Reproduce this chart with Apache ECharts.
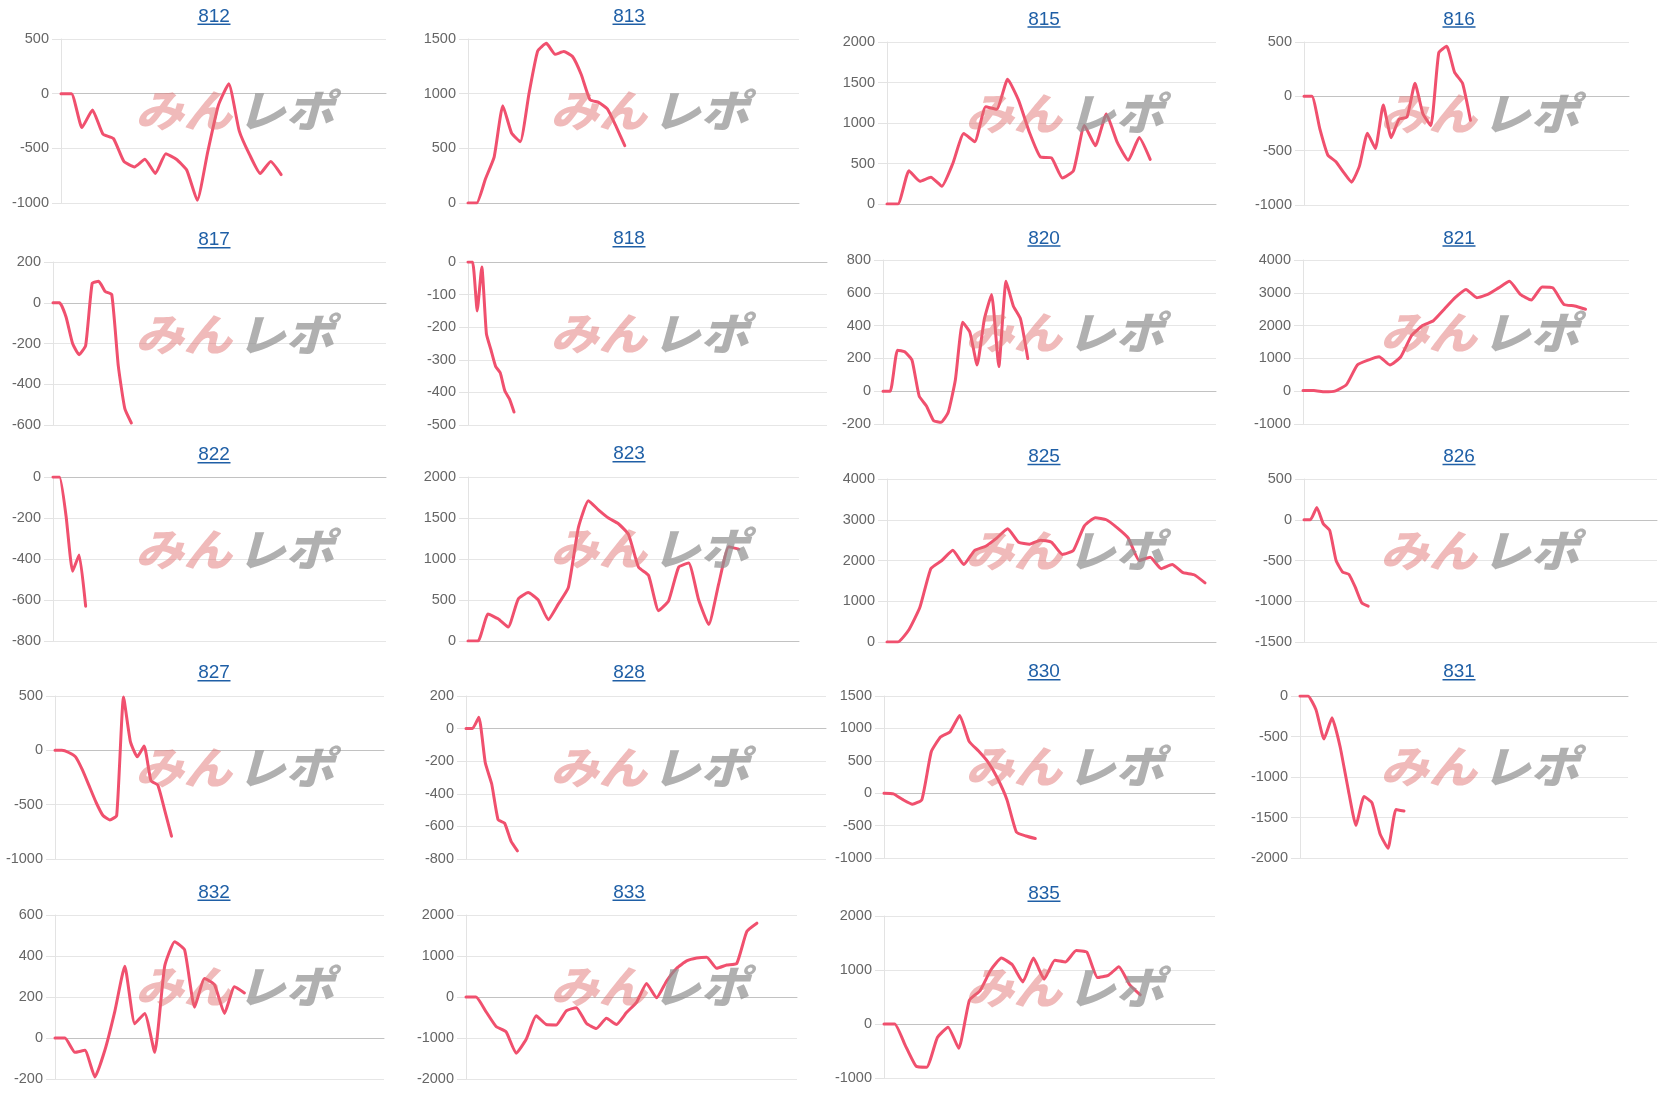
<!DOCTYPE html>
<html><head><meta charset="utf-8">
<script src="https://cdn.jsdelivr.net/npm/echarts@6/dist/echarts.min.js"></script>
<style>html,body{margin:0;padding:0;background:#fff}#c{width:1660px;height:1095px}</style>
</head><body><div id="c"></div>
<script>
// ---------- data ----------
const chartIds = ['812','813','815','816','817','818','820','821','822','823','825','826','827','828','830','831','832','833','835'];
const yMins  = [-1000,0,0,-1000,-600,-500,-200,-1000,-800,0,0,-1500,-1000,-800,-1000,-2000,-200,-2000,-1000];
const yMaxs  = [500,1500,2000,500,200,0,800,4000,0,2000,4000,500,500,200,1500,0,600,2000,2000];
const ySteps = [500,500,500,500,200,100,200,1000,200,500,1000,500,500,200,500,500,200,1000,1000];
const xCounts = [32,39,31,42,52,79,47,31,52,34,31,56,49,57,36,42,34,34,32];

const d812 = [0,0,-310,-150,-370,-410,-620,-670,-600,-730,-550,-600,-700,-975,-530,-110,90,-340,-560,-730,-620,-740];
const d813 = [0,0,220,420,890,640,560,1000,1390,1460,1360,1385,1340,1175,945,920,860,700,525];
const d815 = [0,0,410,280,330,220,500,870,770,1200,1170,1540,1280,880,580,570,320,410,970,720,1110,760,540,820,550];
const d816 = [0,0,-300,-540,-600,-700,-790,-640,-340,-480,-80,-380,-210,-190,120,-160,-270,400,460,220,120,-220];
const d817 = [0,0,-70,-200,-255,-210,95,105,55,40,-310,-520,-590];
const d818 = [0,0,-150,-15,-220,-270,-320,-340,-395,-420,-460];
const d820 = [0,0,250,240,190,-30,-90,-180,-190,-130,70,420,360,160,440,590,150,670,520,440,200];
const d821 = [20,20,-20,10,200,800,950,1050,800,1050,1700,2000,2150,2500,2850,3100,2850,2950,3150,3350,2950,2780,3180,3150,2650,2600,2500];
const d822 = [0,0,-190,-460,-380,-630];
const d823 = [0,0,330,270,170,510,590,500,260,450,650,1380,1710,1600,1500,1430,1300,900,800,370,490,900,950,500,200,700,1150,1120];
const d825 = [0,0,300,850,1800,2000,2250,1900,2250,2350,2550,2780,2450,2400,2500,2450,2150,2250,2850,3050,3000,2800,2550,2000,2080,1800,1900,1700,1650,1450];
const d826 = [0,0,150,-50,-130,-500,-640,-670,-830,-1020,-1060];
const d827 = [0,0,-20,-60,-180,-330,-480,-600,-640,-600,490,80,-60,40,-280,-320,-550,-790];
const d828 = [0,0,70,-210,-340,-560,-580,-690,-750];
const d830 = [0,-10,-100,-170,-100,640,870,950,1200,800,650,480,230,-100,-600,-660,-700];
const d831 = [0,0,-170,-530,-270,-620,-1140,-1600,-1240,-1320,-1700,-1880,-1400,-1420];
const d832 = [0,0,-70,-60,-190,-60,130,350,70,120,-70,350,470,430,150,290,260,120,250,220];
const d833 = [0,0,-360,-720,-850,-1370,-1030,-460,-670,-680,-340,-260,-640,-770,-520,-670,-380,-130,330,-20,390,700,880,950,970,700,780,820,1600,1800];
const d835 = [0,0,-400,-780,-800,-250,-60,-450,440,620,1000,1220,1100,780,1220,830,1180,1150,1360,1330,860,900,1060,730,540];
const seriesData = [d812,d813,d815,d816,d817,d818,d820,d821,d822,d823,d825,d826,d827,d828,d830,d831,d832,d833,d835];

// ---------- layout (pixels) ----------
const plotBoxes = [
  [61,39,386,203],[468,39,799,203],[887,42,1216,204],[1304,42,1629,205],
  [53,262,386,425],[468,262,827,425],[883,260,1216,424],[1303,260,1629,424],
  [53,477,386,641],[468,477,799,641],[887,479,1216,642],[1304,479,1657,642],
  [55,696,384,859],[466,696,826,859],[884,696,1215,858],[1300,696,1628,858],
  [55,915,384,1079],[466,915,797,1079],[884,916,1215,1078]
];
const titleYs = [16.5,16.5,19.3,19.3, 240,239,238.3,238.3, 455,454,456.7,456.7, 673,673,672,672, 892.5,892.5,893.5];
const colX = [0,415,830,1245];

const FONT = '"Liberation Sans", Arial, Helvetica, sans-serif';
const LINK = '#1f5fa6';
const grids=[], xAxes=[], yAxes=[], series=[], graphics=[];

chartIds.forEach((id,i)=>{
  const b = plotBoxes[i];
  grids.push({left:b[0], top:b[1], width:b[2]-b[0], height:b[3]-b[1]});
  const cats = Array.from({length:xCounts[i]}, (_,k)=>String(k+1));
  xAxes.push({type:'category', gridIndex:i, data:cats, boundaryGap:false,
    axisLine:{show:true, onZero:true, lineStyle:{color:'#c2c2c2', width:1}},
    axisTick:{show:false}, axisLabel:{show:false}, splitLine:{show:false}});
  yAxes.push({type:'value', gridIndex:i, min:yMins[i], max:yMaxs[i], interval:ySteps[i],
    axisLine:{show:true, lineStyle:{color:'#e3e3e3'}},
    axisTick:{show:true, length:9, lineStyle:{color:'#e3e3e3'}},
    axisLabel:{color:'#666', fontSize:14.5, margin:12, fontFamily:FONT, formatter:(v)=>String(v)},
    splitLine:{show:true, lineStyle:{color:'#e6e6e6', width:1}}});
  series.push({type:'line', xAxisIndex:i, yAxisIndex:i, data:seriesData[i], symbol:'none',
    smooth:0.15, lineStyle:{color:'#f0506e', width:3, join:'round', cap:'round'}, z:2});
  const col = i%4;
  const cx = colX[col] + 214;
  const ty = titleYs[i];
  graphics.push({type:'text', x:cx, y:ty, z:50, style:{text:id, fill:LINK, fontSize:19, fontFamily:FONT, align:'center', verticalAlign:'middle'}});
  graphics.push({type:'rect', shape:{x:cx-16.5, y:ty+7, width:33, height:1.5}, style:{fill:LINK}, z:50});
  const wy = ty + 94;
  graphics.push({type:'text', x:colX[col]+232, y:wy, z:100, scaleX:1.1,
    style:{text:'みん', fill:'#df6f6f', opacity:0.48, fontSize:44, fontWeight:900, fontStyle:'italic',
      fontFamily:'"Noto Sans CJK JP", sans-serif', align:'right', verticalAlign:'middle'}});
  graphics.push({type:'text', x:colX[col]+237, y:wy, z:100, scaleX:1.1,
    style:{text:'レポ', fill:'#8f8f8f', opacity:0.7, fontSize:44, fontWeight:900, fontStyle:'italic',
      fontFamily:'"Noto Sans CJK JP", sans-serif', align:'left', verticalAlign:'middle'}});
});

const chart = echarts.init(document.getElementById('c'), null, {renderer:'canvas'});
chart.setOption({animation:false, backgroundColor:'#fff', grid:grids, xAxis:xAxes, yAxis:yAxes, series:series, graphic:{elements:graphics}});
</script></body></html>
